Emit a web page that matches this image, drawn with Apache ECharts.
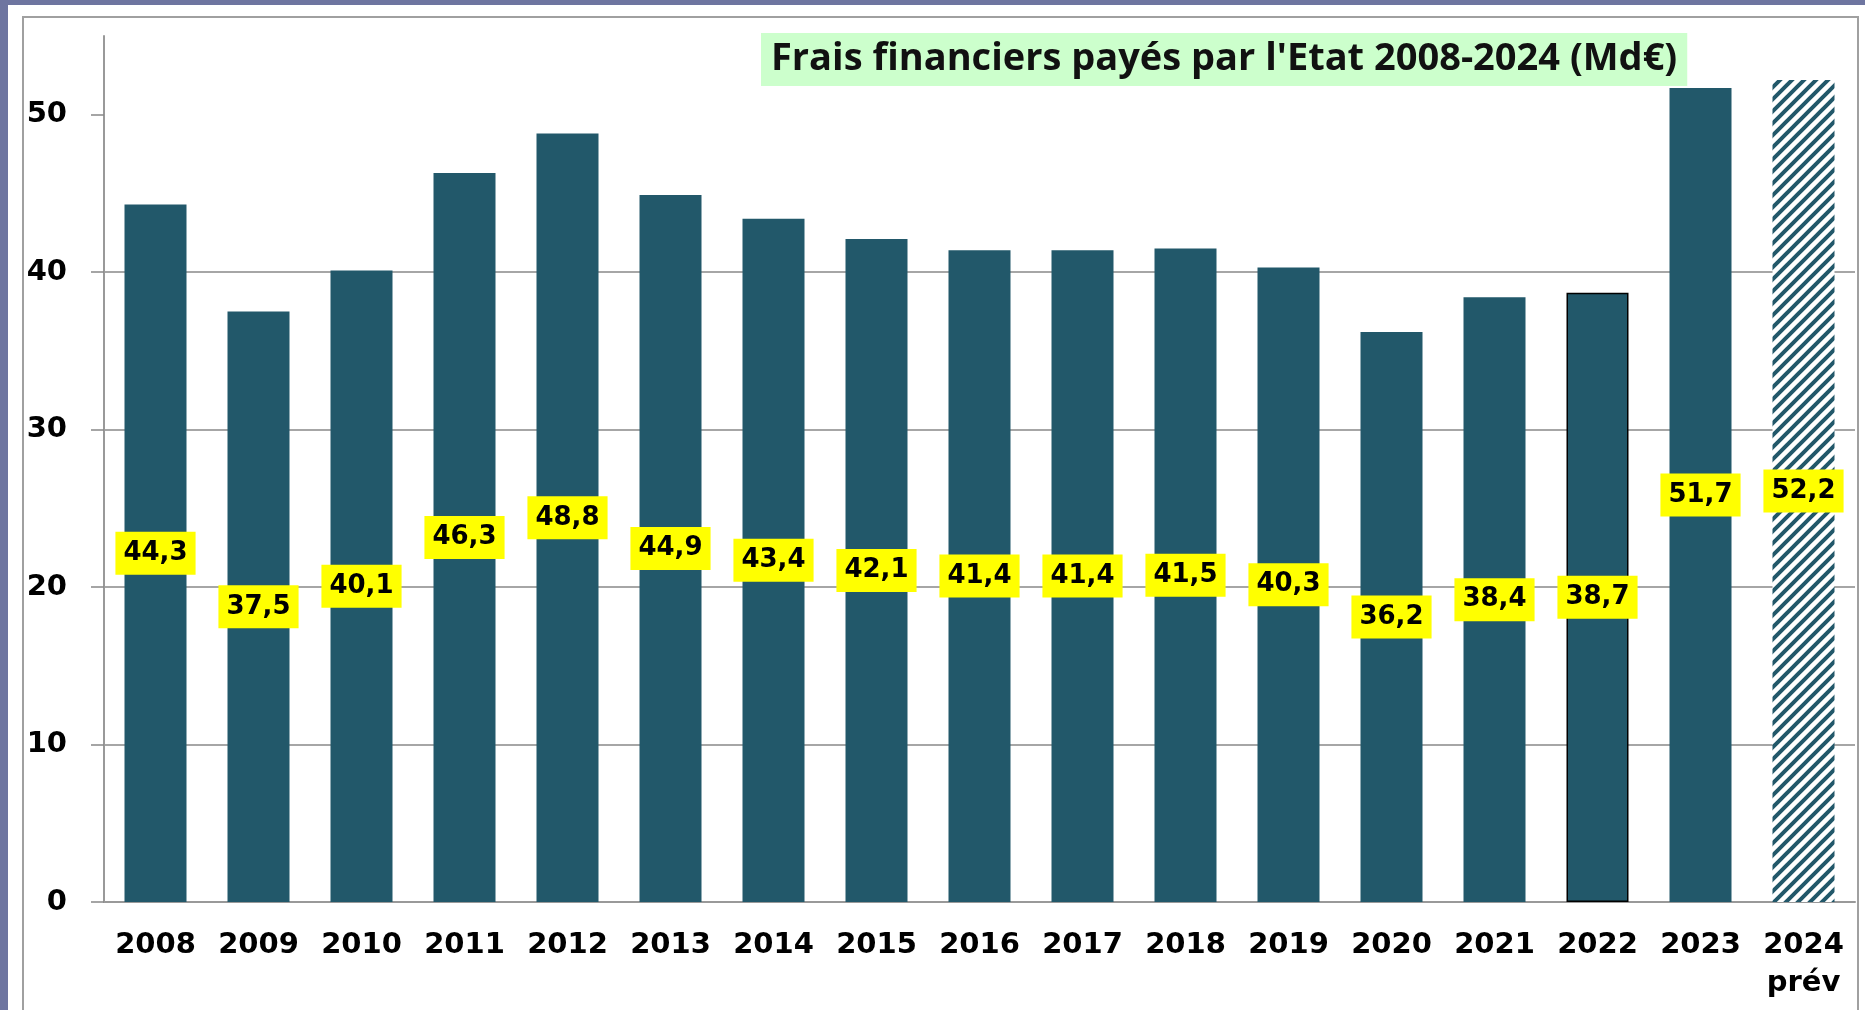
<!DOCTYPE html>
<html>
<head>
<meta charset="utf-8">
<script src="https://cdn.jsdelivr.net/npm/echarts@6/dist/echarts.min.js"></script>
<style>
  html, body { margin: 0; padding: 0; background: #6e75a0; }
  #chart { width: 1865px; height: 1010px; }
</style>
</head>
<body>
<div id="chart"></div>
<script>
// données : frais financiers payés par l'Etat (Md€)
const years = ['2008', '2009', '2010', '2011', '2012', '2013', '2014', '2015', '2016',
  '2017', '2018', '2019', '2020', '2021', '2022', '2023', '2024\nprév']
const values = [44.3, 37.5, 40.1, 46.3, 48.8, 44.9, 43.4, 42.1, 41.4, 41.4, 41.5, 40.3,
  36.2, 38.4, 38.7, 51.7, 52.2]
const yTicks = [0, 10, 20, 30, 40, 50]
const titleText = "Frais financiers payés par l'Etat 2008-2024 (Md€)"

const BAR = '#22586a'
const FONT = 'DejaVu Sans'

// motif hachuré pour la prévision 2024
function hatch() {
  const c = document.createElement('canvas')
  c.width = 12
  c.height = 12
  const ctx = c.getContext('2d')
  ctx.fillStyle = '#fff'
  ctx.fillRect(0, 0, 12, 12)
  ctx.strokeStyle = BAR
  ctx.lineWidth = 4
  ctx.beginPath()
  ctx.moveTo(-3, 15); ctx.lineTo(15, -3)
  ctx.moveTo(-9, 9); ctx.lineTo(9, -9)
  ctx.moveTo(3, 21); ctx.lineTo(21, 3)
  ctx.stroke()
  return c
}

const data = values.map((v, i) => {
  const item = { value: v }
  if (i === 14) item.itemStyle = { borderColor: '#000', borderWidth: 1.5 }
  if (i === 16) item.itemStyle = { color: { image: hatch(), repeat: 'repeat' } }
  return item
})

const chart = echarts.init(document.getElementById('chart'))
chart.setOption({
  animation: false,
  graphic: [
    { type: 'rect', z: -10, silent: true, shape: { x: 8, y: 5, width: 1857, height: 1005 }, style: { fill: '#fff' } },
    { type: 'rect', z: -9, silent: true, shape: { x: 23, y: 17, width: 1835, height: 1010 },
      style: { fill: 'none', stroke: '#a0a0a0', lineWidth: 2 } }
  ],
  title: {
    text: titleText,
    left: 761,
    top: 33,
    backgroundColor: '#ccffcc',
    padding: [7, 10],
    textStyle: { fontFamily: 'Open Sans', fontWeight: 'bold', fontSize: 38, lineHeight: 39, color: '#111' }
  },
  grid: { left: 104, right: 10, top: 36, bottom: 108 },
  xAxis: {
    type: 'category',
    data: years,
    axisLine: { lineStyle: { color: '#999', width: 2 } },
    axisTick: { length: 10, lineStyle: { color: '#999', width: 2 } },
    axisLabel: { interval: 0, margin: 24, color: '#000', fontFamily: FONT, fontWeight: 'bold', fontSize: 29, lineHeight: 38 }
  },
  yAxis: {
    type: 'value',
    min: 0,
    max: 55,
    interval: 10,
    axisLine: { show: true, lineStyle: { color: '#999', width: 2 } },
    axisTick: { show: true, length: 13, customValues: yTicks, lineStyle: { color: '#888', width: 1.5 } },
    axisLabel: { customValues: yTicks, margin: 37, color: '#000', fontFamily: FONT, fontWeight: 'bold', fontSize: 29 },
    splitLine: { showMaxLine: false, lineStyle: { color: '#888', width: 1.5 } }
  },
  series: [{
    type: 'bar',
    data: data,
    barWidth: 62,
    itemStyle: { color: BAR },
    label: {
      show: true,
      position: 'inside',
      formatter: p => String(p.value).replace('.', ','),
      backgroundColor: '#ffff00',
      padding: [9, 8, 8, 8],
      color: '#000',
      fontFamily: FONT,
      fontWeight: 'bold',
      fontSize: 26
    }
  }]
})
</script>
</body>
</html>
